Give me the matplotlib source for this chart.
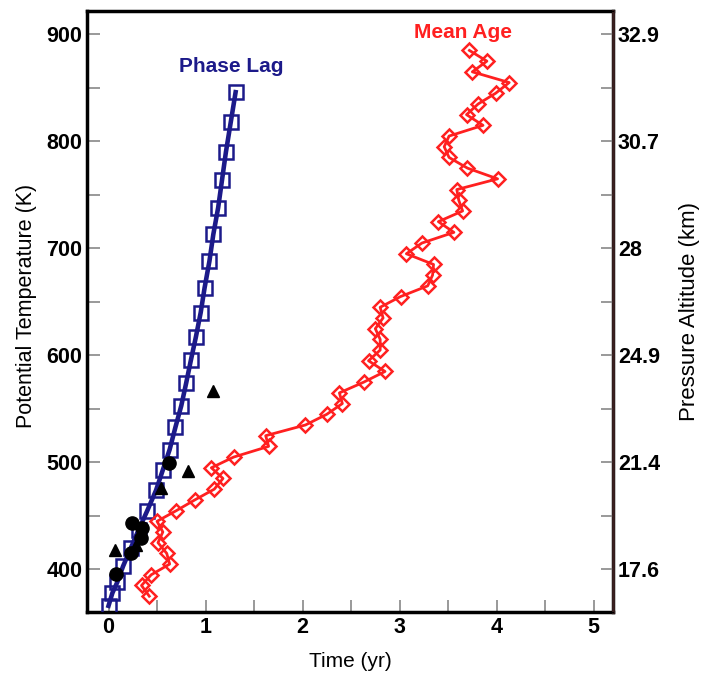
import numpy as np
import matplotlib.pyplot as plt
from matplotlib.ticker import MultipleLocator

plt.rcParams['font.family'] = ['Liberation Sans', 'DejaVu Sans']

# Phase lag profile (theta in K, lag in yr)
phase_theta = [366, 378, 388, 403, 420, 437, 455, 474, 493, 512, 533, 553,
               574, 596, 617, 640, 663, 688, 713, 738, 764, 790, 818, 846]
phase_lag = [0.00, 0.04, 0.09, 0.15, 0.23, 0.31, 0.40, 0.49, 0.56, 0.63, 0.69, 0.75,
             0.80, 0.85, 0.90, 0.95, 0.99, 1.04, 1.08, 1.13, 1.17, 1.21, 1.26, 1.31]

# Mean age profile
age_theta = list(range(375, 886, 10))
mean_age = [0.42, 0.34, 0.44, 0.63, 0.60, 0.51, 0.56, 0.50, 0.70, 0.89,
            1.09, 1.18, 1.06, 1.29, 1.65, 1.62, 2.03, 2.25, 2.41, 2.38,
            2.63, 2.85, 2.68, 2.80, 2.80, 2.75, 2.83, 2.80, 3.01, 3.29,
            3.34, 3.35, 3.07, 3.23, 3.56, 3.40, 3.65, 3.61, 3.59, 4.01,
            3.70, 3.51, 3.46, 3.51, 3.86, 3.69, 3.81, 3.99, 4.13, 3.75,
            3.90, 3.72]

# observations
circ_t = [0.62, 0.24, 0.35, 0.33, 0.23, 0.08]
circ_theta = [499, 443, 439, 429, 415, 396]
tri_t = [1.08, 0.82, 0.54, 0.28, 0.07]
tri_theta = [567, 492, 476, 423, 418]

# right axis
alt_ticks = [400, 500, 600, 700, 800, 900]
alt_labels = ['17.6', '21.4', '24.9', '28', '30.7', '32.9']

navy = '#1c1a8a'
red = '#ff2020'

fig = plt.figure(figsize=(7.03, 6.78), dpi=100)
ax = fig.add_axes([0.124, 0.097, 0.748, 0.887])

ax.plot(phase_lag, phase_theta, color=navy, lw=3.3, marker='s', ms=9.5,
        mfc='none', mec=navy, mew=1.8, zorder=3)
ax.plot(mean_age, age_theta, color=red, lw=2, marker='D', ms=7.5,
        mfc='none', mec=red, mew=1.8, zorder=3)
ax.plot(circ_t, circ_theta, 'o', color='black', ms=9.5, zorder=4)
ax.plot(tri_t, tri_theta, '^', color='black', ms=9, zorder=4)

ax.text(1.27, 870, 'Phase Lag', color=navy, fontsize=15, ha='center', va='center',
        fontweight='bold')
ax.text(3.65, 902, 'Mean Age', color=red, fontsize=15, ha='center', va='center',
        fontweight='bold')

ax.set_xlim(-0.22, 5.2)
ax.set_ylim(360, 922)
ax.xaxis.set_major_locator(MultipleLocator(1))
ax.xaxis.set_minor_locator(MultipleLocator(0.5))
ax.yaxis.set_major_locator(MultipleLocator(100))
ax.yaxis.set_minor_locator(MultipleLocator(50))
ax.tick_params(which='both', direction='in', color='#888888', width=1.2,
               length=9, labelsize=15.5, top=False, right=False)
for lab in ax.get_xticklabels() + ax.get_yticklabels():
    lab.set_fontweight('bold')

for s in ax.spines.values():
    s.set_linewidth(2.5)
    s.set_color('black')

ax.set_xlabel('Time (yr)', fontsize=15, labelpad=10)
ax.set_ylabel('Potential Temperature (K)', fontsize=15.5)
ax.yaxis.set_label_coords(-0.095, 0.51)

ax2 = ax.twinx()
ax2.set_ylim(ax.get_ylim())
ax2.set_yticks(alt_ticks)
ax2.set_yticklabels(alt_labels, fontweight='bold')
ax2.yaxis.set_minor_locator(MultipleLocator(50))
ax2.tick_params(which='both', direction='in', color='#888888', width=1.2,
                length=9, labelsize=15.5)
ax2.spines['right'].set_color('#3a2020')
ax2.spines['right'].set_linewidth(2)
ax2.set_ylabel('Pressure Altitude (km)', fontsize=16)
ax2.yaxis.set_label_coords(1.125, 0.5)

plt.savefig('out.png', dpi=100)
